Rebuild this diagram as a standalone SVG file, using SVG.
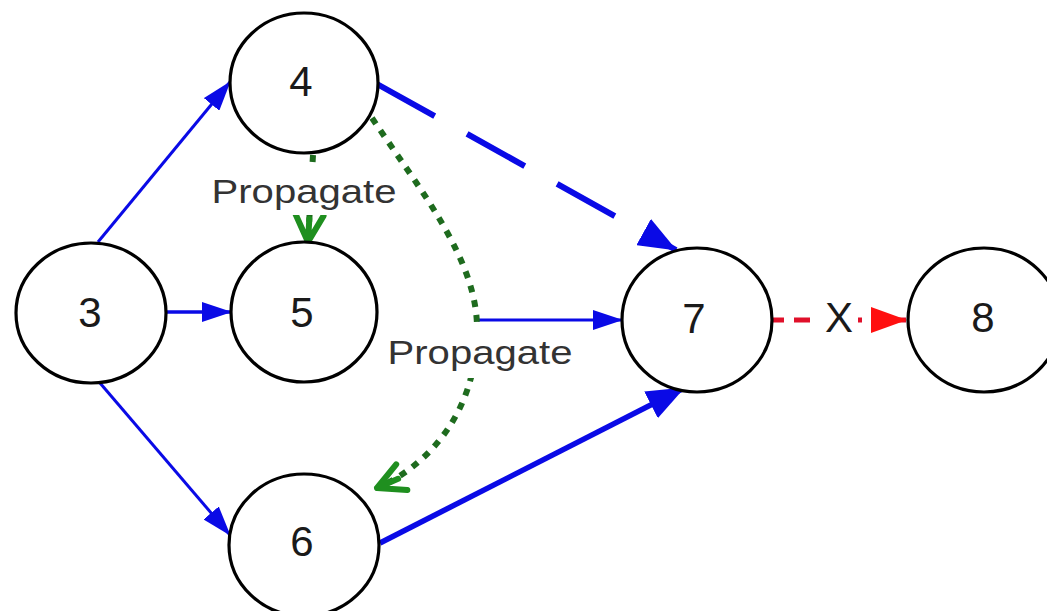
<svg xmlns="http://www.w3.org/2000/svg" width="1047" height="611" viewBox="0 0 1047 611">
  <style>
    .node ellipse { fill: #ffffff; stroke: #000000; stroke-width: 3.2; }
    .node text { font-family: "Liberation Sans", Arial, sans-serif; font-size: 42px; fill: #1a1a1a; text-anchor: middle; }
    .lbl { font-family: "Liberation Sans", Arial, sans-serif; font-size: 34px; fill: #333333; text-anchor: middle; }
    .blue { fill: none; stroke: #0a0ae6; stroke-linecap: butt; }
    .green { fill: none; stroke: #1e6b1e; stroke-width: 6; stroke-dasharray: 7 8; }
    .red { fill: none; stroke: #e0102a; stroke-width: 5; stroke-dasharray: 16 10; }
    .mask { fill: #ffffff; }
  </style>
  <defs>
    <marker id="arrBlueS" viewBox="0 0 30 20" refX="29" refY="10" markerWidth="30" markerHeight="20" markerUnits="userSpaceOnUse" orient="auto">
      <path d="M0,0 L30,10 L0,20 z" fill="#0a0ae6"/>
    </marker>
    <marker id="arrBlueL" viewBox="0 0 38 30" refX="37" refY="15" markerWidth="38" markerHeight="30" markerUnits="userSpaceOnUse" orient="auto">
      <path d="M0,0 L38,15 L0,30 z" fill="#0a0ae6"/>
    </marker>
    <marker id="arrRed" viewBox="0 0 36 26" refX="35" refY="13" markerWidth="36" markerHeight="26" markerUnits="userSpaceOnUse" orient="auto">
      <path d="M0,0 L36,13 L0,26 z" fill="#ff1010"/>
    </marker>
    <marker id="arrGreen" viewBox="0 0 36 36" refX="32" refY="18" markerWidth="36" markerHeight="36" markerUnits="userSpaceOnUse" orient="auto">
      <path d="M5,4 L32,18 L5,32 M9,18 L32,18" fill="none" stroke="#1f8f1f" stroke-width="6" stroke-linecap="round" stroke-linejoin="round"/>
    </marker>
  </defs>

  <g id="connectors">
    <path class="blue" d="M98,242 L230,82" stroke-width="3" marker-end="url(#arrBlueS)"/>
    <path class="blue" d="M167,312 L231,312" stroke-width="3.4" marker-end="url(#arrBlueS)"/>
    <path class="blue" d="M100,383 L230,535" stroke-width="3" marker-end="url(#arrBlueS)"/>
    <path class="blue" d="M377,84 L676,250" stroke-width="6" stroke-dasharray="66 37" marker-end="url(#arrBlueL)"/>
    <path class="blue" d="M380,543 L684,388" stroke-width="5.5" marker-end="url(#arrBlueL)"/>
    <path class="blue" d="M478,320 L622,320" stroke-width="3" marker-end="url(#arrBlueS)"/>
    <path class="green" d="M372,118 C420,190 478,260 477,330 C477,410 430,465 377,488" marker-end="url(#arrGreen)"/>
    <path class="green" d="M313,155 L308,242" marker-end="url(#arrGreen)"/>
    <path class="red" d="M768,320 L906,320" marker-end="url(#arrRed)"/>
    <rect class="mask" x="206" y="165" width="196" height="50"/>
    <text class="lbl" x="304" y="203" textLength="185" lengthAdjust="spacingAndGlyphs">Propagate</text>
    <rect class="mask" x="384" y="326" width="192" height="52"/>
    <text class="lbl" x="480" y="364" textLength="185" lengthAdjust="spacingAndGlyphs">Propagate</text>
    <rect class="mask" x="817" y="300" width="41" height="38"/>
    <text class="lbl" x="839" y="332" style="font-size:42px;fill:#1a1a1a">X</text>
  </g>

  <g id="node3" class="node">
    <ellipse cx="91" cy="313" rx="75" ry="70"/>
    <text x="90" y="327">3</text>
  </g>
  <g id="node4" class="node">
    <ellipse cx="304" cy="83" rx="74" ry="70"/>
    <text x="301" y="96">4</text>
  </g>
  <g id="node5" class="node">
    <ellipse cx="304" cy="312" rx="73" ry="70"/>
    <text x="302" y="327">5</text>
  </g>
  <g id="node6" class="node">
    <ellipse cx="304" cy="545" rx="75" ry="71"/>
    <text x="302" y="556">6</text>
  </g>
  <g id="node7" class="node">
    <ellipse cx="697" cy="320" rx="75" ry="72"/>
    <text x="694" y="333">7</text>
  </g>
  <g id="node8" class="node">
    <ellipse cx="984" cy="320" rx="76" ry="72"/>
    <text x="983" y="332">8</text>
  </g>
</svg>
